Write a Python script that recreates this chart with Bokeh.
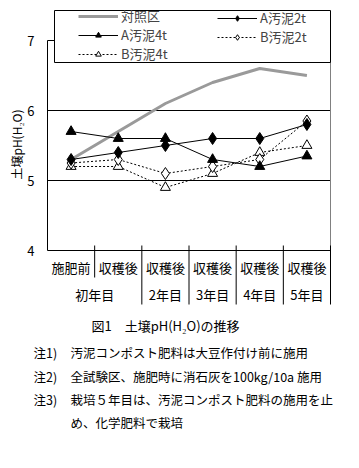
import numpy as np
from bokeh.plotting import figure
from bokeh.models import Range1d, Legend, LegendItem
from bokeh.core.properties import value
from bokeh.embed import file_html
from bokeh.resources import INLINE

# ---------------- data ----------------
stages = ["施肥前", "収穫後", "収穫後", "収穫後", "収穫後", "収穫後"]
years = ["初年目", "2年目", "3年目", "4年目", "5年目"]
year_spans = [2, 1, 1, 1, 1]

control = [5.3, 5.7, 6.1, 6.4, 6.6, 6.5]   # 対照区
a2t = [5.3, 5.4, 5.5, 5.6, 5.6, 5.8]       # A汚泥2t
a4t = [5.7, 5.6, 5.6, 5.3, 5.2, 5.35]      # A汚泥4t
b2t = [5.25, 5.3, 5.1, 5.2, 5.3, 5.85]     # B汚泥2t
b4t = [5.2, 5.2, 4.9, 5.1, 5.4, 5.5]       # B汚泥4t

y_ticks = [4, 5, 6, 7]
y_tick_labels = ["4", "5", "6", "7"]
y_label = "土壌pH(H₂O)"
caption = "図1　土壌pH(H₂O)の推移"
note_heads = ["注1)", "注2)", "注3)", ""]
note_bodies = ["汚泥コンポスト肥料は大豆作付け前に施用",
               "全試験区、施肥時に消石灰を100kg/10a 施用",
               "栽培５年目は、汚泥コンポスト肥料の施用を止",
               "め、化学肥料で栽培"]

FONT = value("Noto Sans CJK JP")

# ---------------- layout ----------------
W, H = 343, 452
L, R, T, B = 47, 330, 40, 250          # plot area in canvas pixels
n = len(stages)
y_lo, y_hi = y_ticks[0], y_ticks[-1]
xs_per = (R - L) / n
ys_per = (B - T) / (y_hi - y_lo)


def px(fx):
    return (fx - L) / xs_per


def py(fy):
    return y_hi - (fy - T) / ys_per


p = figure(width=W, height=H, output_backend="svg", toolbar_location=None,
           x_range=Range1d(px(0), px(W)), y_range=Range1d(py(H), py(0)),
           x_axis_location=None, y_axis_location=None, min_border=0)
p.outline_line_color = None
p.grid.visible = False
p.background_fill_color = "white"
p.border_fill_color = "white"

xc = [i + 0.5 for i in range(n)]

# horizontal lines (grid + frame)
p.segment(x0=[0] * len(y_ticks), x1=[n] * len(y_ticks), y0=y_ticks, y1=y_ticks,
          line_color="black", line_width=1)
# left / right frame
p.segment(x0=[0], x1=[0], y0=[y_lo], y1=[y_hi], line_color="black", line_width=1)
p.segment(x0=[n], x1=[n], y0=[y_lo], y1=[y_hi], line_color="#808080", line_width=1)

# category table separators
bounds = list(np.cumsum(year_spans))
inner = [b for b in range(1, n) if b not in bounds]
p.segment(x0=inner, x1=inner, y0=[py(B - 5)] * len(inner), y1=[py(277)] * len(inner),
          line_color="black", line_width=1)
p.segment(x0=bounds, x1=bounds, y0=[py(B - 5)] * len(bounds), y1=[py(304)] * len(bounds),
          line_color="black", line_width=1)

# category labels
p.text(x=xc, y=[py(267)] * n, text=stages, text_font=FONT, text_font_size="13px",
       text_align="center", text_baseline="middle", text_color="black")
starts = [0] + bounds[:-1]
ycent = [s + sp / 2 for s, sp in zip(starts, year_spans)]
p.text(x=ycent, y=[py(294)] * len(years), text=years, text_font=FONT, text_font_size="13px",
       text_align="center", text_baseline="middle", text_color="black")

# y tick labels
p.text(x=[px(34)] * len(y_ticks), y=y_ticks, text=y_tick_labels, text_font=FONT,
       text_font_size="13px", text_align="right", text_baseline="middle", text_color="black")
# y label
p.text(x=[px(16)], y=[py(144)], text=[y_label], angle=np.pi / 2, text_font=FONT,
       text_font_size="12px", text_align="center", text_baseline="middle", text_color="black")

# ---------------- series ----------------
r_c = p.line(xc, control, line_color="#9a9a9a", line_width=3)

r_b4l = p.line(xc, b4t, line_color="black", line_width=1, line_dash="2 2")
r_b4m = p.scatter(xc, b4t, marker="triangle", size=10, fill_color="white", line_color="black")
r_b2l = p.line(xc, b2t, line_color="black", line_width=1, line_dash="2 2")
r_b2m = p.scatter(xc, b2t, marker="diamond", size=12, fill_color="white", line_color="black")
r_a4l = p.line(xc, a4t, line_color="black", line_width=1)
r_a4m = p.scatter(xc, a4t, marker="triangle", size=10, fill_color="black", line_color="black")
r_a2l = p.line(xc, a2t, line_color="black", line_width=1)
r_a2m = p.scatter(xc, a2t, marker="diamond", size=12, fill_color="black", line_color="black")

# legend box
p.quad(left=[px(54)], right=[n], top=[py(10)], bottom=[py(62)],
       fill_color="white", line_color="black", line_width=1)

common = dict(border_line_color=None, background_fill_alpha=0, padding=0, margin=0,
              spacing=-4, label_height=14, glyph_height=14, glyph_width=40,
              label_standoff=3, label_text_font="Noto Sans CJK JP",
              label_text_font_size="13px")
leg1 = Legend(items=[LegendItem(label="対照区", renderers=[r_c]),
                     LegendItem(label="A汚泥4t", renderers=[r_a4l, r_a4m]),
                     LegendItem(label="B汚泥4t", renderers=[r_b4l, r_b4m])],
              location=(78, H - 63), **common)
leg2 = Legend(items=[LegendItem(label="A汚泥2t", renderers=[r_a2l, r_a2m]),
                     LegendItem(label="B汚泥2t", renderers=[r_b2l, r_b2m])],
              location=(217, H - 46), **common)
p.add_layout(leg1)
p.add_layout(leg2)

# caption & notes
p.text(x=[px(165)], y=[py(325)], text=[caption], text_font=FONT, text_font_size="13px",
       text_align="center", text_baseline="middle", text_color="black")
note_y = [py(352), py(376), py(399), py(422)]
p.text(x=[px(33)] * len(note_heads), y=note_y, text=note_heads, text_font=FONT,
       text_font_size="12.5px", text_align="left", text_baseline="middle", text_color="black")
p.text(x=[px(70)] * len(note_bodies), y=note_y, text=note_bodies, text_font=FONT,
       text_font_size="12.5px", text_align="left", text_baseline="middle", text_color="black")

open("out.html", "w").write(file_html(p, INLINE))
